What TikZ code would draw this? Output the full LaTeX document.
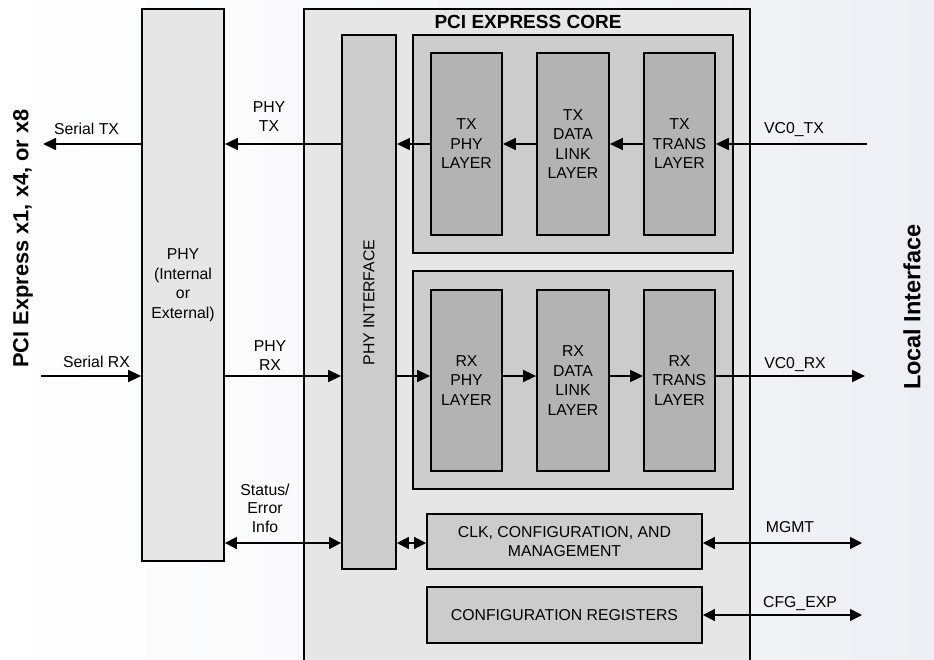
\documentclass[tikz,border=0pt]{standalone}
\usepackage{fontspec}
\setmainfont{Liberation Sans}
\usetikzlibrary{arrows.meta,calc}
\definecolor{bgR}{HTML}{EEEFF4}
\definecolor{fillA}{HTML}{E6E6E6}
\definecolor{fillB}{HTML}{CCCCCC}
\definecolor{fillC}{HTML}{B3B3B3}
\begin{document}
\begin{tikzpicture}[x=1pt,y=-1pt,
  box/.style={draw, line width=1.8pt, inner sep=0pt, align=center,
    font=\fontsize{15.8}{19.5}\selectfont},
  lbl/.style={inner sep=0pt, align=center, font=\fontsize{15.8}{19}\selectfont},
  conn/.style={line width=1.7pt, -{Triangle[length=13pt,width=12pt]}},
  dconn/.style={line width=1.7pt, {Triangle[length=12pt,width=12pt]}-{Triangle[length=12pt,width=12pt]}}]
\useasboundingbox (0,0) rectangle (934,660);
\shade[left color=white, right color=bgR] (0,0) rectangle (934,660);
\begin{scope}
\clip (0,0) rectangle (934,660);
\node[box, fill=fillA, minimum width=446, minimum height=682] (core) at (527,350) {};
\end{scope}
\node[inner sep=0pt, font=\bfseries\fontsize{19}{23}\selectfont] (coretitle) at (528,22) {PCI EXPRESS CORE};

% PHY and PHY interface
\node[box, fill=fillA, minimum width=82, minimum height=552] (phy) at (183,285) {PHY\\(Internal\\or\\External)};
\node[box, fill=fillB, minimum width=54, minimum height=534] (phyif) at (369,302) {};
\node[rotate=90, inner sep=0pt, font=\fontsize{15.8}{19}\selectfont] (phyiftxt) at (369,302.5) {PHY INTERFACE};

% TX group
\node[box, fill=fillB, minimum width=320, minimum height=218] (txg) at (573,144) {};
\node[box, fill=fillC, minimum width=71, minimum height=182] (txphy) at (466.5,144) {TX\\PHY\\LAYER};
\node[box, fill=fillC, minimum width=72, minimum height=182] (txdl) at (573,144) {TX\\DATA\\LINK\\LAYER};
\node[box, fill=fillC, minimum width=71, minimum height=182] (txtr) at (679.5,144) {TX\\TRANS\\LAYER};

% RX group
\node[box, fill=fillB, minimum width=320, minimum height=218] (rxg) at (573,380) {};
\node[box, fill=fillC, minimum width=71, minimum height=181] (rxphy) at (466.5,380.5) {RX\\PHY\\LAYER};
\node[box, fill=fillC, minimum width=72, minimum height=181] (rxdl) at (573,380.5) {RX\\DATA\\LINK\\LAYER};
\node[box, fill=fillC, minimum width=71, minimum height=181] (rxtr) at (679.5,380.5) {RX\\TRANS\\LAYER};

% management boxes
\node[box, fill=fillB, minimum width=275, minimum height=55] (clk) at (564.5,541.5) {CLK, CONFIGURATION, AND\\MANAGEMENT};
\node[box, fill=fillB, minimum width=275, minimum height=56] (cfg) at (564.5,615) {CONFIGURATION REGISTERS};

% side titles
\node[rotate=90, inner sep=0pt, font=\bfseries\fontsize{21.8}{26}\selectfont] (pcie) at (23,238.5) {PCI Express x1, x4, or x8};
\node[rotate=90, inner sep=0pt, font=\bfseries\fontsize{23.5}{27}\selectfont] (local) at (912,307) {Local Interface};

% free ends and rows
\coordinate (stx) at (43,144);
\coordinate (srx) at (41,376);
\coordinate (vctx) at (867,144);
\coordinate (vcrx) at (865,376);
\coordinate (mgmt) at (862,543);
\coordinate (cfgexp) at (862,615);
\coordinate (strow) at (0,543);
\coordinate (rxrow) at (0,376);

% TX path
\draw[conn] (vctx) -- (txtr.east);
\draw[conn] (txtr.west) -- (txdl.east);
\draw[conn] (txdl.west) -- (txphy.east);
\draw[conn] (txphy.west) -- (txphy.west -| phyif.east);
\draw[conn] (txphy.west -| phyif.west) -- (txphy.west -| phy.east);
\draw[conn] (txphy.west -| phy.west) -- (stx);

% RX path
\draw[conn] (srx) -- (rxrow -| phy.west);
\draw[conn] (rxrow -| phy.east) -- (rxrow -| phyif.west);
\draw[conn] (rxrow -| phyif.east) -- (rxrow -| rxphy.west);
\draw[conn] (rxrow -| rxphy.east) -- (rxrow -| rxdl.west);
\draw[conn] (rxrow -| rxdl.east) -- (rxrow -| rxtr.west);
\draw[conn] (rxrow -| rxtr.east) -- (vcrx);

% status / management
\draw[dconn] (strow -| phy.east) -- (strow -| phyif.west);
\draw[dconn] (strow -| phyif.east) -- (strow -| clk.west);
\draw[dconn] (strow -| clk.east) -- (mgmt);
\draw[dconn] (cfg.east) -- (cfgexp);

% labels
\node[lbl] (lstx) at (86.5,129) {Serial TX};
\node[lbl] (lphytx) at (269,117) {PHY\\TX};
\node[lbl] (lsrx) at (96.5,362) {Serial RX};
\node[lbl] (lphyrx) at (270,355.5) {PHY\\RX};
\node[lbl, font=\fontsize{15.8}{18.5}\selectfont] (lstat) at (265,508) {Status/\\Error\\Info};
\node[lbl] (lvctx) at (794,130) {VC0\_TX};
\node[lbl] (lvcrx) at (795,365) {VC0\_RX};
\node[lbl] (lmgmt) at (790,527) {MGMT};
\node[lbl] (lcfg) at (800,604) {CFG\_EXP};
\end{tikzpicture}
\end{document}
